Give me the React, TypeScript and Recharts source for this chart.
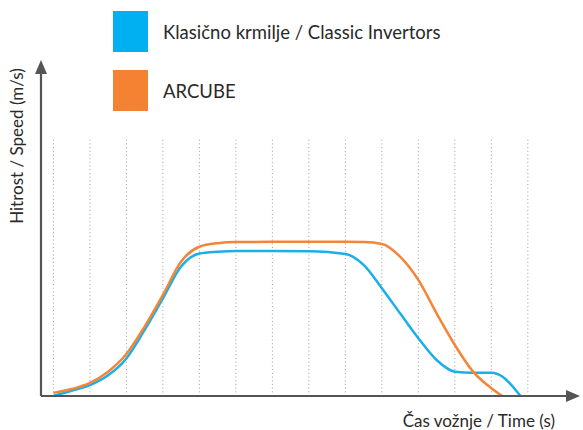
import React from 'react';
import {
  LineChart,
  Line,
  XAxis,
  YAxis,
  ReferenceLine,
  ReferenceDot,
  Customized,
} from 'recharts';

// time grid (s) – dotted guides at every whole step
const gridTimes = [0, 1, 2, 3, 4, 5, 6, 7, 8, 9, 10, 11, 12, 13];

// classic inverters speed profile
const classicTimes = [0, 0.5, 1, 1.5, 2, 2.5, 3, 3.5, 4, 4.5, 5, 6, 7, 8, 8.5, 9, 9.5, 10, 10.5, 11, 11.5, 12, 12.3, 12.5, 12.8];
const classicSpeed = [0, 2, 4.2, 8, 14.5, 25.5, 37.7, 50, 55, 55.7, 56, 56, 55.9, 54.8, 50.6, 41.6, 31.9, 22.3, 13.9, 9.4, 9, 9, 7.5, 5, 0];

// ARCUBE speed profile
const arcubeTimes = [0, 0.5, 1, 1.5, 2, 2.5, 3, 3.5, 4, 4.5, 5, 6, 7, 8, 8.5, 9, 9.5, 10, 10.5, 11, 11.5, 12, 12.3];
const arcubeSpeed = [1.2, 2.7, 5.1, 9.4, 16.2, 26.8, 39, 51.9, 57.6, 59, 59.4, 59.5, 59.5, 59.5, 59.4, 58.7, 53.8, 44.8, 31.9, 19.7, 9.4, 3, 0];

const seriesNames = ['Klasično krmilje / Classic Invertors', 'ARCUBE'];
const seriesColors = ['#00B0F0', '#F58233'];
const xLabel = 'Čas vožnje / Time (s)';
const yLabel = 'Hitrost / Speed (m/s)';

const X_MIN = -0.34;
const X_MAX = 14.43;
const Y_MAX = 129.7;
const GRID_TOP = 100;

const BLUE = '#1AAFE8';
const ORANGE = '#F58536';
const AXIS = '#555555';
const FONT = 'Lato, "Open Sans", sans-serif';

const classicData = classicTimes.map((t, i) => ({ t, v: classicSpeed[i] }));
const arcubeData = arcubeTimes.map((t, i) => ({ t, v: arcubeSpeed[i] }));

const ArrowRight = (props: any) => {
  const { cx, cy } = props;
  return <path d={`M${cx},${cy} L${cx - 14},${cy - 6} L${cx - 14},${cy + 6} Z`} fill={AXIS} />;
};

const ArrowUp = (props: any) => {
  const { cx, cy } = props;
  return <path d={`M${cx},${cy} L${cx - 6},${cy + 14} L${cx + 6},${cy + 14} Z`} fill={AXIS} />;
};

const LegendBox = () => (
  <div style={{ position: 'absolute', left: 113, top: 11, fontFamily: FONT }}>
    {seriesNames.map((name, i) => (
      <div key={name} style={{ display: 'flex', alignItems: 'center', height: 41, marginBottom: 18 }}>
        <div style={{ width: 35, height: 41, background: seriesColors[i] }} />
        <span style={{ marginLeft: 15, fontSize: 18.5, color: '#2a2a2a', whiteSpace: 'nowrap' }}>{name}</span>
      </div>
    ))}
  </div>
);

const AxisLabels = () => (
  <g fontFamily={FONT} fill="#2a2a2a">
    <text x={555} y={427} fontSize={17} textAnchor="end">{xLabel}</text>
    <text x={23} y={146} fontSize={17} textAnchor="middle" transform="rotate(-90 23 146)">{yLabel}</text>
  </g>
);

export default function App() {
  return (
    <div style={{ position: 'absolute', left: 0, top: 0, width: 583, height: 430, background: '#fff' }}>
      <LineChart width={583} height={430} margin={{ top: 60, right: 3, bottom: 34, left: 41 }}>
        <XAxis dataKey="t" type="number" domain={[X_MIN, X_MAX]} allowDataOverflow hide />
        <YAxis type="number" domain={[0, Y_MAX]} allowDataOverflow hide />
        {gridTimes.map((t) => (
          <ReferenceLine
            key={t}
            segment={[{ x: t, y: 0 }, { x: t, y: GRID_TOP }]}
            stroke="#9a9a9a"
            strokeWidth={1}
            strokeDasharray="1 2.7"
          />
        ))}
        <Line
          data={classicData}
          dataKey="v"
          name={seriesNames[0]}
          type="monotone"
          stroke={BLUE}
          strokeWidth={2.5}
          dot={false}
          isAnimationActive={false}
        />
        <Line
          data={arcubeData}
          dataKey="v"
          name={seriesNames[1]}
          type="monotone"
          stroke={ORANGE}
          strokeWidth={2.5}
          dot={false}
          isAnimationActive={false}
        />
        <ReferenceLine
          segment={[{ x: X_MIN, y: 0 }, { x: X_MAX - 0.2, y: 0 }]}
          stroke={AXIS}
          strokeWidth={2.2}
          ifOverflow="visible"
        />
        <ReferenceLine
          segment={[{ x: X_MIN, y: 0 }, { x: X_MIN, y: Y_MAX - 5 }]}
          stroke={AXIS}
          strokeWidth={2.2}
          ifOverflow="visible"
        />
        <ReferenceDot x={X_MAX} y={0} r={0} shape={<ArrowRight />} ifOverflow="visible" />
        <ReferenceDot x={X_MIN} y={Y_MAX} r={0} shape={<ArrowUp />} ifOverflow="visible" />
        <Customized component={AxisLabels} />
      </LineChart>
      <LegendBox />
    </div>
  );
}
